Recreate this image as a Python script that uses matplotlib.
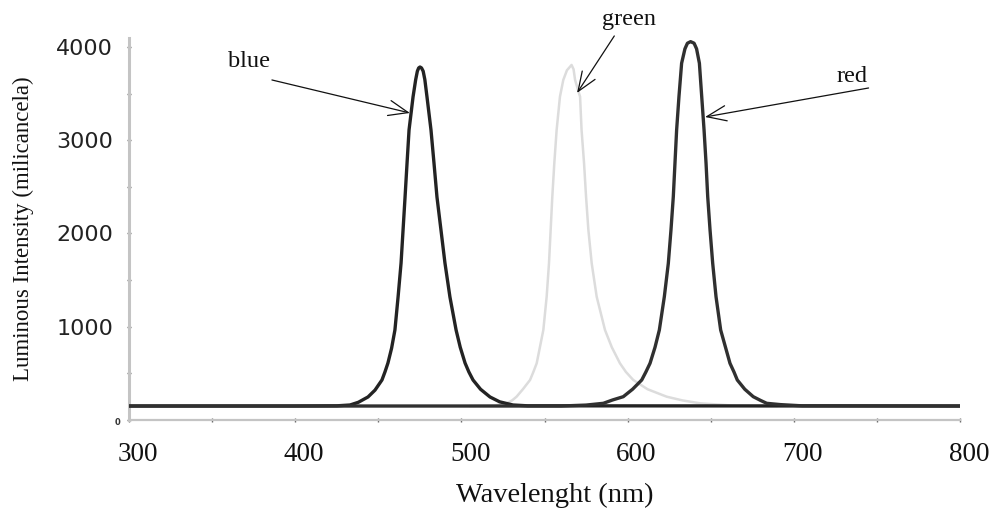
import matplotlib
matplotlib.use("Agg")
import matplotlib.pyplot as plt
from matplotlib.ticker import MultipleLocator
import matplotlib.transforms as mtransforms

# ---- data (wavelength in nm, intensity in mcd) ----
blue_wl = [300, 400, 425, 433, 438, 443.8, 448, 452.2, 454, 455.8, 458, 460,
           461.9, 463.7, 464.9, 466.1, 467.3, 468.5, 470.9, 472.5, 473.5,
           474.3, 475.1, 476, 477, 478, 479.3, 481.7, 483.5, 485.3, 487.7,
           490.1, 493.1, 496.8, 499.3, 502.2, 504.5, 507, 511.5, 517.2, 523,
           531, 540, 800]
blue_int = [150, 150, 152, 161, 190, 247, 320, 429, 515, 611, 770, 965,
            1319, 1684, 2038, 2391, 2756, 3110, 3464, 3650, 3740, 3775, 3785,
            3775, 3740, 3650, 3464, 3110, 2756, 2391, 2038, 1684, 1319, 965,
            780, 611, 515, 429, 330, 247, 195, 161, 152, 150]

green_wl = [505, 520, 527.2, 530.5, 533.2, 537, 541.3, 543.3, 545.3, 549.3,
            551.3, 552.7, 553.7, 554.7, 555.9, 557.3, 559.3, 561.3, 563.5,
            566.3, 567.5, 568.4, 571.4, 572.3, 573.8, 575.0, 576.4, 578.4,
            581.4, 586.4, 590.5, 595.4, 599, 603.4, 612, 623.5, 633, 643.6,
            663, 690]
green_int = [150, 155, 179, 210, 250, 330, 429, 515, 608, 965, 1322, 1680,
             2038, 2395, 2753, 3110, 3467, 3646, 3750, 3807, 3760, 3646, 3467,
             3110, 2753, 2395, 2038, 1680, 1322, 965, 780, 608, 515, 429, 330,
             250, 210, 179, 155, 150]

red_wl = [300, 560, 575, 585.4, 591, 597.4, 603, 608.5, 611, 613.5, 616.5,
          619.1, 622.1, 624.5, 626.1, 627.5, 628.5, 629.5, 630.9, 632.5, 634.5,
          636, 637.9, 640, 641.5, 643.2, 644.6, 646.0, 647.2, 648.2, 649.6,
          651.2, 653.2, 656.0, 661.6, 664, 666.0, 670.5, 675.6, 680, 683.7,
          692, 705, 800]
red_int = [150, 150, 160, 179, 215, 250, 330, 429, 515, 608, 780, 965, 1322,
           1680, 2038, 2395, 2753, 3110, 3467, 3825, 3980, 4040, 4057, 4040,
           3980, 3825, 3467, 3110, 2753, 2395, 2038, 1680, 1322, 965, 608, 515,
           429, 330, 250, 210, 179, 165, 152, 150]

x_ticks = [300, 400, 500, 600, 700, 800]
y_ticks = [1000, 2000, 3000, 4000]

# annotation anchors: (label, text position, arrow tail, arrow tip) in data coords
annotations = [
    ("blue", (372, 3840), (386, 3646), (469, 3292)),
    ("green", (601, 4290), (592, 4118), (569.6, 3507)),
    ("red", (735, 3678), (745, 3560), (646.6, 3249)),
]

# ---- figure ----
fig = plt.figure(figsize=(9.94, 5.14), dpi=100)
ax = fig.add_axes([129 / 994, 1 - 420 / 514, (960 - 129) / 994, (420 - 38) / 514])

serif = "Liberation Serif"

ax.plot(green_wl, green_int, color="#dcdcdc", lw=1.8, solid_joinstyle="round",
        solid_capstyle="round", zorder=2)
ax.plot(blue_wl, blue_int, color="#232323", lw=2.4, solid_joinstyle="round", zorder=3)
ax.plot(red_wl, red_int, color="#303030", lw=2.4, solid_joinstyle="round", zorder=3)

ax.set_xlim(300, 800)
ax.set_ylim(0, 4096)

for s in ("top", "right"):
    ax.spines[s].set_visible(False)
ax.spines["left"].set_color("#c4c4c4")
ax.spines["left"].set_linewidth(2.2)
ax.spines["bottom"].set_color("#c4c4c4")
ax.spines["bottom"].set_linewidth(1.6)

ax.set_xticks(x_ticks)
ax.xaxis.set_minor_locator(MultipleLocator(50))
ax.set_yticks(y_ticks)
ax.yaxis.set_minor_locator(MultipleLocator(500))
ax.tick_params(axis="both", which="both", direction="inout", length=3,
               width=1, color="#666666")
ax.tick_params(axis="x", which="major", pad=14, labelsize=19.5)
ax.tick_params(axis="y", which="major", pad=10, labelsize=16)
for lab in ax.get_xticklabels():
    lab.set_fontfamily(serif)
    lab.set_color("#111111")
    lab.set_transform(lab.get_transform() +
                      mtransforms.ScaledTranslation(9 / 100, 0, fig.dpi_scale_trans))
for lab in ax.get_yticklabels():
    lab.set_fontfamily("DejaVu Sans")
    lab.set_color("#222222")

ax.set_xlabel("Wavelenght (nm)", fontfamily=serif, fontsize=20.5, labelpad=12,
              color="#111111")
ax.xaxis.label.set_x(0.512)
ax.set_ylabel("Luminous Intensity (milicancela)", fontfamily=serif,
              fontsize=16.5, labelpad=16, color="#111111")

ax.annotate("0", xy=(300, 0), xytext=(-8, -2), textcoords="offset points",
            fontsize=6, fontweight="bold", ha="center", va="center",
            color="#333333", annotation_clip=False)

for label, txt, tail, tip in annotations:
    ax.text(txt[0], txt[1], label, fontfamily=serif, fontsize=17.5,
            ha="center", va="center", color="#111111", clip_on=False)
    ax.annotate("", xy=tip, xytext=tail,
                arrowprops=dict(arrowstyle="->,head_length=1.4,head_width=0.55",
                                color="#111111", lw=0.9, shrinkA=0, shrinkB=0),
                annotation_clip=False)

fig.savefig("out.png", dpi=100)
